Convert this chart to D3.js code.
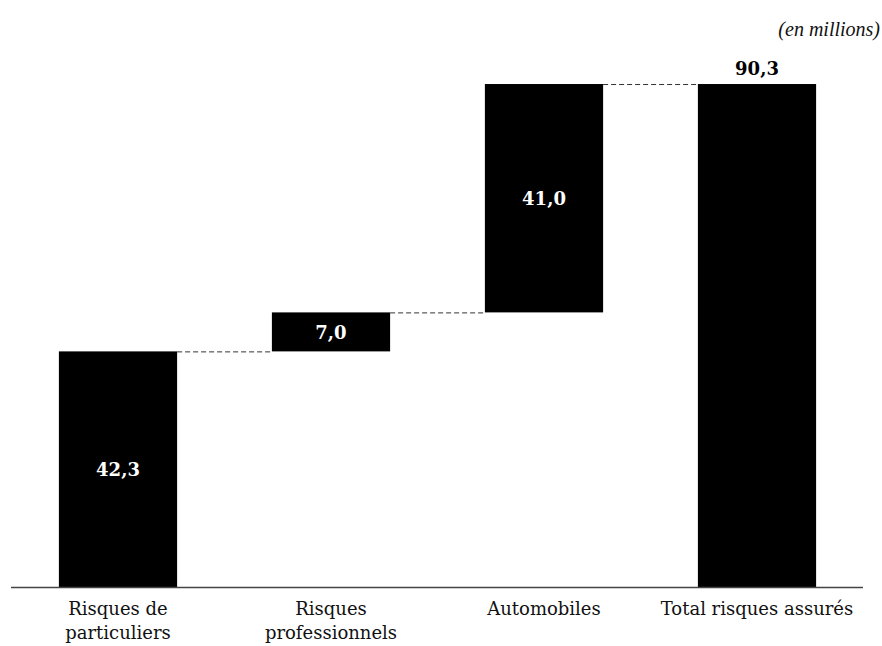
<!DOCTYPE html>
<html><head><meta charset="utf-8">
<script src="https://cdn.jsdelivr.net/npm/d3@7"></script>
<style>body{margin:0;background:#fff}svg{display:block}</style>
</head><body>
<script>
const categories = [["Risques de","particuliers"],["Risques","professionnels"],["Automobiles"],["Total risques assurés"]];
const values = [42.3, 7.0, 41.0, 90.3];
const isTotal = [false, false, false, true];
const valueLabels = ["42,3","7,0","41,0","90,3"];
const unitLabel = "(en millions)";

const W = 882, H = 646;
const FONT = "'DejaVu Serif', serif";
const svg = d3.select("body").append("svg").attr("width", W).attr("height", H);

const keys = categories.map((c,i)=>i);
const x = d3.scaleBand().domain(keys).range([11.5, 863.5]).paddingInner(0.445).paddingOuter(0.2225);
const y = d3.scaleLinear().domain([0, 100]).range([587, 30]);

let cum = 0;
const bars = values.map((v,i)=>{
  let y0, y1;
  if (isTotal[i]) { y0 = 0; y1 = v; cum = v; }
  else { y0 = cum; y1 = cum + v; cum = y1; }
  return {i, v, y0, y1, label: valueLabels[i], total: isTotal[i]};
});

for (let k = 0; k < bars.length - 1; k++) {
  const b = bars[k];
  svg.append("line")
    .attr("x1", x(b.i) + x.bandwidth()).attr("x2", x(bars[k+1].i))
    .attr("y1", y(b.y1) + 0.5).attr("y2", y(b.y1) + 0.5)
    .attr("stroke", "#333").attr("stroke-width", 1).attr("stroke-dasharray", "5,3");
}

svg.selectAll("rect.bar").data(bars).enter().append("rect")
  .attr("x", d=>x(d.i)).attr("width", x.bandwidth())
  .attr("y", d=>y(d.y1)).attr("height", d=>y(d.y0)-y(d.y1))
  .attr("fill", "#000");

svg.selectAll("text.val").data(bars).enter().append("text")
  .attr("x", d=>x(d.i)+x.bandwidth()/2)
  .attr("y", d=> d.total ? y(d.y1) - 9 : (y(d.y0)+y(d.y1))/2 + 7)
  .attr("text-anchor","middle")
  .attr("font-family", FONT).attr("font-weight","bold").attr("font-size", 18)
  .attr("fill", d=> d.total ? "#000" : "#fff")
  .text(d=>d.label);

svg.append("line").attr("x1", 11).attr("x2", 863).attr("y1", 587.5).attr("y2", 587.5)
  .attr("stroke", "#444").attr("stroke-width", 1.5);

const cl = svg.selectAll("text.cat").data(categories).enter().append("text")
  .attr("text-anchor","middle").attr("font-family", FONT).attr("font-size", 18).attr("fill","#111")
  .attr("x", (d,i)=>x(i)+x.bandwidth()/2).attr("y", 615);
cl.selectAll("tspan").data(d=>d).enter().append("tspan")
  .attr("x", function(){ return this.parentNode.getAttribute("x"); })
  .attr("dy", (d,j)=> j===0 ? 0 : 24).text(d=>d);

svg.append("text").attr("x", 880).attr("y", 36).attr("text-anchor","end")
  .attr("font-family", "'Liberation Serif', serif").attr("font-style","italic").attr("font-size", 20).attr("fill","#111")
  .text(unitLabel);
</script>
</body></html>
